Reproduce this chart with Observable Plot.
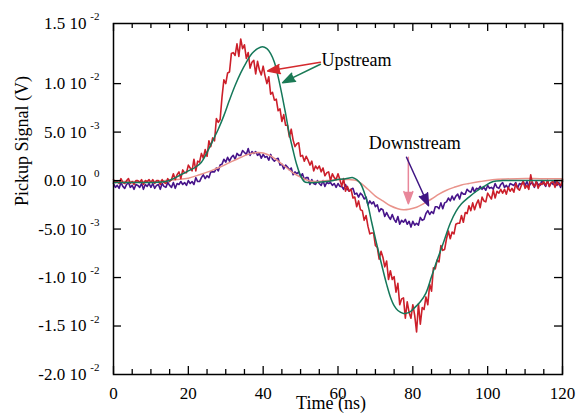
<!DOCTYPE html>
<html><head><meta charset="utf-8">
<script src="https://cdn.jsdelivr.net/npm/d3@7"></script>
<script src="https://cdn.jsdelivr.net/npm/@observablehq/plot@0.6"></script>
<style>body{margin:0;background:#fff}</style>
</head><body><div id="chart"></div>
<script>
// sampling step of the measured traces (ns)
const sampleStep = 0.5;
// measured upstream pickup signal, mV (x 10^-3 V), every 0.5 ns from 0 to 120 ns
const upstreamMeasured = [
0.1,-0.2,-0.1,-0.3,0.2,-0.2,-0.3,0.0,0.2,-0.3,-0.1,-0.4,0.0,0.0,-0.2,0.1,-0.4,0.0,-0.1,0.1,-0.2,0.1,-0.3,0.0,0.0,-0.4,0.1,-0.2,-0.3,0.2,-0.1,
0.1,0.7,0.1,0.6,0.9,0.2,1.1,0.8,0.8,1.6,1.3,1.0,2.2,1.0,2.0,1.9,2.8,2.3,3.2,2.5,4.1,3.5,4.4,4.1,6.4,6.0,6.3,8.6,10.4,10.0,
11.1,11.2,13.1,13.2,12.9,14.1,12.8,14.6,13.6,14.0,12.6,13.2,11.6,12.2,12.4,11.0,12.3,11.4,10.9,11.8,
10.8,10.0,10.7,8.9,9.1,8.3,8.4,7.2,7.4,6.1,6.8,5.7,5.7,4.5,5.3,4.2,3.5,3.8,3.9,2.5,
2.6,2.0,2.5,2.1,1.6,2.0,1.0,1.5,1.2,1.5,0.9,1.3,0.5,0.8,0.9,0.0,0.7,0.3,0.1,0.7,
0.1,-0.6,0.2,-1.1,-0.6,-1.1,-0.9,-1.8,-1.7,-2.7,-2.1,-3.0,-3.1,-4.1,-3.6,-4.7,-5.5,-5.4,-5.4,-6.7,
-6.9,-8.1,-7.3,-7.9,-8.9,-8.3,-10.2,-9.3,-10.2,-9.9,-11.5,-10.6,-12.8,-12.2,-12.1,-14.2,-12.5,-13.6,-14.2,-12.8,
-13.9,-15.6,-12.7,-14.8,-13.1,-13.3,-12.0,-12.8,-10.7,-11.4,-9.0,-9.1,-8.2,-8.4,-6.7,-7.2,-7.1,-6.0,-5.2,-6.0,
-5.3,-5.5,-4.5,-4.4,-4.4,-3.6,-4.3,-3.3,-3.4,-2.6,-3.1,-2.3,-3.0,-2.4,-2.0,-2.8,-1.7,-2.1,-2.2,-1.3,
-1.6,-1.9,-1.0,-1.8,-1.1,-1.3,-0.9,-1.3,-0.9,-1.4,-0.7,-1.1,-0.8,-1.2,-0.3,-0.8,-1.0,-0.5,-0.1,-0.8,
-0.5,-0.9,0.6,-0.4,-0.6,-0.1,-0.8,-0.3,-0.4,-0.1,-0.5,0.0,-0.6,-0.2,-0.1,-0.7,-0.1,-0.4,-0.5,0.1
];
// measured downstream pickup signal, mV, every 0.5 ns
const downstreamMeasured = [
-0.3,-0.7,-0.5,-0.8,-0.2,-0.6,-0.8,-0.4,-0.2,-0.7,-0.5,-0.9,-0.4,-0.5,-0.7,-0.3,-0.9,-0.4,-0.6,-0.3,-0.7,-0.3,-0.8,-0.5,-0.4,-0.9,-0.3,-0.6,-0.7,-0.2,-0.5,
-0.7,-0.2,-0.8,-0.3,-0.4,-0.1,-0.4,-0.2,-0.5,0.0,-0.3,-0.1,-0.4,0.3,-0.1,-0.1,0.3,0.6,0.2,0.5,0.3,0.9,0.9,0.9,1.3,1.0,1.6,1.7,2.2,1.9,
2.4,2.0,2.4,2.6,2.2,2.8,2.6,2.6,3.1,2.9,2.7,3.3,2.6,3.0,2.8,3.0,2.6,2.8,2.3,2.7,
2.4,2.5,2.1,2.7,2.2,2.0,2.2,2.3,1.6,1.7,1.2,1.6,1.4,1.1,1.3,0.6,0.9,0.7,0.9,0.4,
0.7,0.1,0.3,0.3,-0.4,0.1,-0.3,-0.4,0.0,-0.3,-0.5,0.0,-0.6,-0.2,-0.3,-0.2,-0.5,-0.3,-0.7,-0.3,
-0.6,-0.6,-0.9,-0.4,-0.9,-1.1,-0.9,-0.8,-1.4,-1.3,-1.7,-1.3,-1.5,-1.9,-1.7,-2.5,-2.1,-2.4,-2.2,-2.7,
-2.5,-3.2,-2.9,-3.0,-3.7,-3.3,-3.7,-4.0,-3.5,-4.0,-4.3,-3.7,-4.5,-4.1,-4.3,-4.0,-4.5,-4.2,-4.8,-4.2,
-4.6,-4.4,-4.6,-3.8,-4.1,-4.0,-3.4,-3.1,-3.5,-3.2,-3.4,-2.7,-2.7,-2.9,-2.3,-2.9,-2.3,-2.2,-1.8,-2.1,
-1.6,-2.0,-1.6,-1.4,-1.9,-1.2,-1.4,-1.4,-0.9,-1.1,-1.2,-0.7,-1.2,-0.8,-0.9,-0.6,-0.9,-0.7,-1.0,-0.5,
-0.8,-0.7,-0.9,-0.3,-0.7,-0.8,-0.4,-0.2,-0.7,-0.5,-0.8,-0.3,-0.4,-0.5,-0.2,-0.8,-0.3,-0.4,-0.1,-0.5,
-0.1,-0.6,-0.3,-0.2,-0.7,-0.1,-0.4,-0.5,0.0,-0.3,-0.6,0.0,-0.6,-0.2,-0.4,-0.1,-0.5,-0.2,-0.7,-0.1
];
// smooth (calculated) upstream signal
const upCalcTime = [0,5,10,14,16,18,20,22,23.5,25,26.5,28,29.5,31,32.5,34,35.5,37,38.5,39.8,41,42,43,44,45,46,47,48,49,50,51,52,54,57,60,62,64,65,66,67,68,69,70,71,72,73,74,75,76,77.5,79,80.5,82,83.5,85,86.5,88,90,91.5,93,95,97,99,101.5,104,110,120];
const upCalcValue = [-0.2,-0.2,-0.2,-0.1,0.2,0.6,1.0,1.4,1.9,2.9,4.1,5.3,6.7,8.3,9.8,11.1,12.2,13.1,13.6,13.8,13.6,13.1,12.2,10.7,8.9,6.9,4.8,3.1,1.6,0.5,-0.1,-0.2,-0.2,-0.1,0.1,0.2,0.3,0.1,-0.3,-1.2,-2.5,-4.3,-6.0,-7.6,-9.2,-10.7,-12.0,-12.9,-13.4,-13.7,-13.6,-13.1,-12.5,-11.6,-9.9,-8.2,-6.6,-4.4,-3.2,-2.4,-1.7,-1.1,-0.6,-0.1,0.0,0.0,0.0];
// smooth (calculated) downstream signal
const downCalcTime = [0,5,10,14,17,20,23,26,28.5,31,33.5,36,38.5,40,42,44,46,48,50,52,54,57,60,63,65,66.5,68,70,72,74,76,77.5,79,81,83,85,87,89,91,93,95,98,102,108,114,120];
const downCalcValue = [-0.1,-0.1,-0.1,0.0,0.1,0.25,0.6,1.0,1.4,1.85,2.3,2.7,2.9,2.85,2.55,2.0,1.4,0.8,0.35,0.0,-0.1,0.0,0.1,0.1,0.0,-0.4,-0.9,-1.6,-2.1,-2.6,-2.9,-3.0,-2.95,-2.75,-2.35,-1.9,-1.4,-1.0,-0.7,-0.45,-0.3,-0.1,0.1,0.2,0.2,0.2];

const xMajorTicks = [0,20,40,60,80,100,120];
const xMinorTicks = [5,10,15,25,30,35,45,50,55,65,70,75,85,90,95,105,110,115];
const yTicks = [-15,-10,-5,0,5,10];
const yLabelValues = [-20,-15,-10,-5,0,5,10];
const yLabelMantissa = ["-2.0 10","-1.5 10","-1.0 10","-5.0 10","0.0 10","5.0 10","1.0 10"];
const yLabelExponent = ["-2","-2","-2","-3","0","-3","-2"];
const topLabelMantissa = "1.5 10", topLabelExponent = "-2";

const annotationText = ["Upstream","Downstream"];
const annotationX = [55.6, 68.2];
const annotationY = [12.4, 3.9];
const arrowX1 = [55.3, 55.3, 78.8, 78.3];
const arrowY1 = [12.2, 12.0, 2.4, 2.4];
const arrowX2 = [41.2, 45.2, 78.8, 84.2];
const arrowY2 = [11.3, 10.1, -2.4, -2.6];
const arrowColor = ["#d42a2e", "#1b7a55", "#e8879a", "#3f1684"];

const colors = {upMeas:"#cc1f2a", upCalc:"#15785a", downMeas:"#47148a", downCalc:"#e9938b"};

const W = 577, H = 414, mt = 23, mr = 15, mb = 40, ml = 113;
const innerW = W - ml - mr, innerH = H - mt - mb;
const majorLen = 8, minorLen = 5;
const font = "'Liberation Serif','Times New Roman',serif";

const upMeas = upstreamMeasured.map((v, i) => ({t: i * sampleStep, v}));
const downMeas = downstreamMeasured.map((v, i) => ({t: i * sampleStep, v}));
const upCalc = upCalcTime.map((t, i) => ({t, v: upCalcValue[i]}));
const downCalc = downCalcTime.map((t, i) => ({t, v: downCalcValue[i]}));
const arrows = arrowX1.map((x1, i) => ({x1, y1: arrowY1[i], x2: arrowX2[i], y2: arrowY2[i], c: arrowColor[i]}));
const annots = annotationText.map((text, i) => ({text, x: annotationX[i], y: annotationY[i]}));

const chart = Plot.plot({
  width: W, height: H,
  marginTop: mt, marginRight: mr, marginBottom: mb, marginLeft: ml,
  x: {domain: [0, 120], axis: null},
  y: {domain: [-20, 16.2], axis: null},
  color: {type: "identity"},
  style: {fontFamily: font, background: "#fff", color: "#000"},
  marks: [
    Plot.line(downMeas, {x: "t", y: "v", stroke: colors.downMeas, strokeWidth: 1.6}),
    Plot.line(downCalc, {x: "t", y: "v", stroke: colors.downCalc, strokeWidth: 1.5, curve: "catmull-rom"}),
    Plot.line(upMeas, {x: "t", y: "v", stroke: colors.upMeas, strokeWidth: 1.6}),
    Plot.line(upCalc, {x: "t", y: "v", stroke: colors.upCalc, strokeWidth: 1.5, curve: "catmull-rom"}),
    Plot.frame({stroke: "#000", strokeWidth: 1.5}),
    Plot.tickX(xMajorTicks, {x: d => d, insetTop: innerH - majorLen, strokeWidth: 1.3}),
    Plot.tickX(xMinorTicks, {x: d => d, insetTop: innerH - minorLen, strokeWidth: 1.3}),
    Plot.tickX(xMajorTicks, {x: d => d, insetBottom: innerH - majorLen, strokeWidth: 1.3}),
    Plot.tickX(xMinorTicks, {x: d => d, insetBottom: innerH - minorLen, strokeWidth: 1.3}),
    Plot.tickY(yTicks, {y: d => d, insetRight: innerW - majorLen, strokeWidth: 1.3}),
    Plot.tickY(yTicks, {y: d => d, insetLeft: innerW - majorLen, strokeWidth: 1.3}),
    Plot.text(xMajorTicks, {x: d => d, frameAnchor: "bottom", lineAnchor: "middle", dy: 19, fontSize: 17}),
    Plot.text(yLabelValues, {y: d => d, text: (d, i) => yLabelMantissa[i], frameAnchor: "left", lineAnchor: "middle", textAnchor: "end", dx: -27, fontSize: 17}),
    Plot.text(yLabelValues, {y: d => d, text: (d, i) => yLabelExponent[i], frameAnchor: "left", lineAnchor: "middle", textAnchor: "end", dx: -14, dy: -7, fontSize: 11}),
    Plot.text([topLabelMantissa], {frameAnchor: "top-left", lineAnchor: "middle", textAnchor: "end", dx: -27, fontSize: 17}),
    Plot.text([topLabelExponent], {frameAnchor: "top-left", lineAnchor: "middle", textAnchor: "end", dx: -14, dy: -7, fontSize: 11}),
    Plot.text(["Time (ns)"], {frameAnchor: "bottom", lineAnchor: "middle", dx: -7, dy: 29, fontSize: 18}),
    Plot.text(["Pickup Signal (V)"], {frameAnchor: "left", lineAnchor: "middle", rotate: -90, dx: -91, dy: 7, fontSize: 18}),
    Plot.arrow(arrows, {x1: "x1", y1: "y1", x2: "x2", y2: "y2", stroke: "c", fill: "c", strokeWidth: 1.5, headLength: 13, headAngle: 40}),
    Plot.text(annots, {x: "x", y: "y", text: "text", textAnchor: "start", lineAnchor: "middle", fontSize: 18})
  ]
});
document.getElementById("chart").appendChild(chart);
</script>
</body></html>
